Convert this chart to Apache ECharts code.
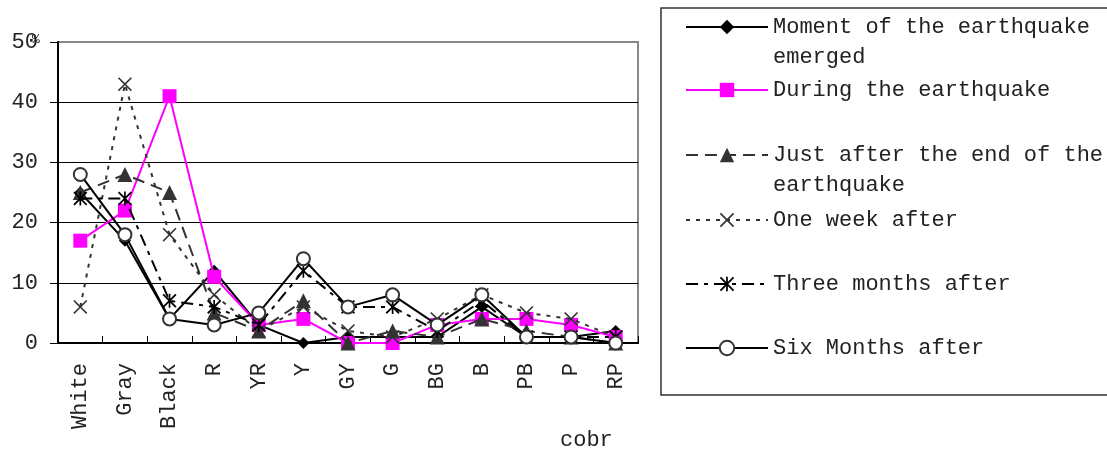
<!DOCTYPE html>
<html>
<head>
<meta charset="utf-8">
<script src="https://cdn.jsdelivr.net/npm/echarts@6/dist/echarts.min.js"></script>
<style>
  html, body { margin: 0; padding: 0; background: #fff; }
  #chart { width: 1107px; height: 453px; }
</style>
</head>
<body>
<div id="chart"></div>
<script>
// Colour categories along the x axis
const categories = ['White', 'Gray', 'Black', 'R', 'YR', 'Y', 'GY', 'G', 'BG', 'B', 'PB', 'P', 'RP'];

// Percentages per colour, one list per point in time
const momentEmerged = [25, 17, 4, 12, 3, 0, 1, 1, 1, 6, 1, 1, 2];
const duringQuake   = [17, 22, 41, 11, 3, 4, 0, 0, 3, 4, 4, 3, 1];
const justAfterEnd  = [25, 28, 25, 5, 2, 7, 0, 2, 1, 4, 2, 1, 0];
const oneWeekAfter  = [6, 43, 18, 8, 2, 6, 2, 1, 4, 8, 5, 4, 1];
const threeMonths   = [24, 24, 7, 6, 3, 12, 6, 6, 2, 7, 1, 1, 1];
const sixMonths     = [28, 18, 4, 3, 5, 14, 6, 8, 3, 8, 1, 1, 0];

// Value-axis range and step
const yMin = 0, yMax = 50, yStep = 10;

const FONT = '"Liberation Mono", "DejaVu Sans Mono", monospace';
const TXT = '#222';

// Filled cross and asterisk outlines (same winding so the parts merge)
const CROSS = 'path://M0,0.8L0.8,0L5,4.2L9.2,0L10,0.8L5.8,5L10,9.2L9.2,10L5,5.8L0.8,10L0,9.2L4.2,5Z';
const STAR = 'path://M0,0.9L0.9,0L5,4.1L9.1,0L10,0.9L5.9,5L10,9.1L9.1,10L5,5.9L0.9,10L0,9.1L4.1,5Z' +
             'M4.4,0L5.6,0L5.6,10L4.4,10Z';

const seriesDefs = [
  { name: 'Moment of the earthquake\nemerged', data: momentEmerged,
    color: '#000', line: 'solid', symbol: 'diamond', size: 12,
    fill: '#000', border: '#000', bw: 0, legendTop: 27 },
  { name: 'During the earthquake', data: duringQuake,
    color: '#ff00ff', line: 'solid', symbol: 'rect', size: 14,
    fill: '#ff00ff', border: '#ff00ff', bw: 0, legendTop: 90 },
  { name: 'Just after the end of the\nearthquake', data: justAfterEnd,
    color: '#333', line: [12, 7], symbol: 'triangle', size: 15,
    fill: '#333', border: '#333', bw: 0, legendTop: 155 },
  { name: 'One week after', data: oneWeekAfter,
    color: '#333', line: [4, 6], symbol: CROSS, size: 14,
    fill: '#333', border: '#333', bw: 0, legendTop: 220 },
  { name: 'Three months after', data: threeMonths,
    color: '#000', line: [12, 6, 4, 6], symbol: STAR, size: 14,
    fill: '#000', border: '#000', bw: 0, legendTop: 284 },
  { name: 'Six Months after', data: sixMonths,
    color: '#000', line: 'solid', symbol: 'circle', size: 13,
    fill: '#fff', border: '#333', bw: 2, legendTop: 348 }
];

const series = seriesDefs.map(function (d, i) {
  return {
    name: d.name,
    type: 'line',
    data: d.data,
    z: 2 + i,
    symbol: d.symbol,
    symbolSize: d.size,
    showAllSymbol: true,
    lineStyle: { color: d.color, width: 2, type: d.line },
    itemStyle: { color: d.fill, borderColor: d.border, borderWidth: d.bw, opacity: 1 },
    emphasis: { disabled: true },
    animation: false
  };
});

// One legend block per series so each row sits where it should;
// two-line names get a blank lead line so the first line sits on the icon
const legends = seriesDefs.map(function (d) {
  const twoLine = d.name.indexOf('\n') >= 0;
  return {
    show: true,
    orient: 'vertical',
    left: 685,
    top: twoLine ? d.legendTop - 45 : d.legendTop - 15,
    padding: 0,
    itemWidth: 82,
    itemHeight: 18,
    itemGap: 0,
    selectedMode: false,
    data: [d.name],
    formatter: function (name) { return twoLine ? ' \n' + name : name; },
    textStyle: {
      fontFamily: FONT,
      fontSize: 22,
      color: TXT,
      lineHeight: 30
    }
  };
});

const chart = echarts.init(document.getElementById('chart'), null, { renderer: 'canvas' });

chart.setOption({
  backgroundColor: '#fff',
  animation: false,
  grid: {
    left: 58, right: 469, top: 42, bottom: 110,
    show: true, borderColor: '#888', borderWidth: 2, backgroundColor: 'transparent'
  },
  legend: legends,
  xAxis: {
    type: 'category',
    data: categories,
    boundaryGap: true,
    axisLine: { lineStyle: { color: '#000', width: 2 } },
    axisTick: { show: true, inside: true, length: 7, lineStyle: { color: '#000', width: 1 } },
    axisLabel: {
      rotate: 90, margin: 20, interval: 0,
      fontFamily: FONT, fontSize: 22, color: TXT
    },
    splitLine: { show: false }
  },
  yAxis: {
    type: 'value',
    min: yMin, max: yMax, interval: yStep,
    axisLine: { show: true, lineStyle: { color: '#000', width: 2 } },
    axisTick: { show: true, inside: false, length: 8, lineStyle: { color: '#000', width: 1 } },
    axisLabel: { margin: 20, fontFamily: FONT, fontSize: 22, color: TXT },
    splitLine: { show: true, showMaxLine: false, lineStyle: { color: '#000', width: 1 } }
  },
  graphic: [
    {
      type: 'rect',
      shape: { x: 661, y: 8, width: 470, height: 387 },
      style: { fill: 'none', stroke: '#333', lineWidth: 1.5 },
      silent: true
    },
    {
      type: 'text', left: 32, top: 33,
      style: { text: '%', font: '13px ' + FONT, fill: TXT }
    },
    {
      type: 'text', left: 560, top: 429,
      style: { text: 'cobr', font: '22px ' + FONT, fill: TXT }
    }
  ],
  series: series
});
</script>
</body>
</html>
